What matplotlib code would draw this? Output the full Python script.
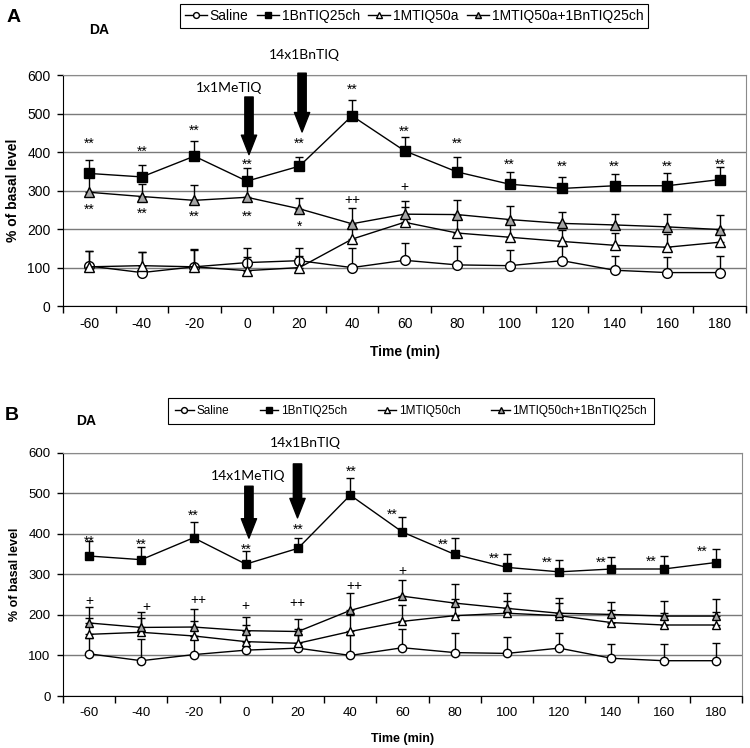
import numpy as np
import matplotlib
matplotlib.use("Agg")
import matplotlib.pyplot as plt

# ---------------- data ----------------
times = [-60, -40, -20, 0, 20, 40, 60, 80, 100, 120, 140, 160, 180]

saline = [104, 87, 102, 113, 118, 100, 119, 107, 105, 118, 93, 87, 87]
saline_err = [40, 54, 45, 39, 32, 50, 45, 49, 40, 38, 36, 40, 44]

bn25 = [345, 336, 390, 325, 364, 495, 404, 349, 317, 306, 313, 313, 329]
bn25_err = [36, 31, 40, 33, 25, 42, 36, 40, 33, 30, 30, 33, 33]

# Panel A
mtiq50a = [102, 105, 102, 92, 100, 174, 218, 190, 179, 168, 158, 153, 166]
mtiq50a_err = [40, 35, 47, 35, 30, 35, 40, 40, 35, 30, 32, 34, 35]
mtiq50a_bn = [296, 285, 275, 283, 253, 214, 239, 238, 225, 215, 211, 206, 199]
mtiq50a_bn_err = [45, 32, 40, 40, 27, 41, 35, 38, 35, 29, 29, 33, 37]

# Panel B
mtiq50ch = [152, 157, 148, 134, 130, 159, 184, 198, 204, 198, 181, 175, 175]
mtiq50ch_err = [40, 35, 38, 42, 35, 40, 40, 40, 30, 30, 30, 30, 32]
mtiq50ch_bn = [180, 169, 170, 161, 159, 211, 246, 229, 216, 204, 201, 197, 197]
mtiq50ch_bn_err = [39, 38, 45, 34, 32, 43, 39, 46, 38, 38, 30, 37, 41]

legend_a = ["Saline", "1BnTIQ25ch", "1MTIQ50a", "1MTIQ50a+1BnTIQ25ch"]
legend_b = ["Saline", "1BnTIQ25ch", "1MTIQ50ch", "1MTIQ50ch+1BnTIQ25ch"]

# significance marks: (category position, value, label)
sig_a = [(0, 434, "**"), (1, 413, "**"), (2, 468, "**"), (3, 379, "**"), (4, 434, "**"),
         (5, 574, "**"), (6, 465, "**"), (7, 434, "**"), (8, 379, "**"), (9, 374, "**"),
         (10, 374, "**"), (11, 374, "**"), (12, 379, "**"),
         (0, 262, "**"), (1, 252, "**"), (2, 242, "**"), (3, 244, "**"), (4, 216, "*"),
         (5, 275, "++"), (6, 309, "+")]
sig_b = [(0, 390, "**"), (1, 384, "**"), (2, 455, "**"), (3, 370, "**"), (4, 419, "**"),
         (5.02, 562, "**"), (5.8, 457, "**"), (6.78, 384, "**"), (7.76, 349, "**"),
         (8.77, 339, "**"), (9.8, 339, "**"), (10.76, 342, "**"), (11.74, 366, "**"),
         (0, 234, "+"), (1.09, 220, "+"), (2.09, 236, "++"), (3, 222, "+"),
         (3.98, 228, "++"), (5.07, 271, "++"), (5.99, 307, "+")]

# arrows: (label, label_x, label_y, arrow_x, tail_y, tip_y)
arrows_a = [("1x1MeTIQ", 2.66, 567, 3.04, 544, 394),
            ("14x1BnTIQ", 4.1, 653, 4.05, 606, 453)]
arrows_b = [("14x1MeTIQ", 3.04, 542, 3.06, 517, 389),
            ("14x1BnTIQ", 4.14, 623, 3.99, 572, 439)]

NARROW = ["Liberation Sans Narrow", "Liberation Sans", "DejaVu Sans"]
SANS = ["Liberation Sans", "DejaVu Sans"]
plt.rcParams["font.family"] = SANS

fig = plt.figure(figsize=(7.5, 7.48), dpi=100)


def panel(rect, v2, v2e, v3, v3e, sig, arrows, ms, fs_tick, fs_lab):
    ax = fig.add_axes(rect)
    x = np.arange(len(times))
    lines = []
    specs = [
        (saline, saline_err, "o", "white", 2),
        (bn25, bn25_err, "s", "black", 5),
        (v2, v2e, "^", "white", 3),
        (v3, v3e, "^", "#a6a6a6", 4),
    ]
    for (vals, err, mk, fc, z) in specs:
        e = ax.errorbar(x, vals, yerr=[np.zeros(len(err)), err], fmt="-", marker=mk,
                        color="black", mfc=fc, mec="black", mew=1.0, ms=ms,
                        lw=1.0, elinewidth=1.0, capsize=3, capthick=1.2, zorder=z)
        lines.append(e.lines[0])
    ax.set_xlim(-0.5, len(times) - 0.5)
    ax.set_ylim(0, 600)
    ax.set_yticks(range(0, 601, 100))
    ax.set_xticks(np.arange(-0.5, len(times), 1.0))
    ax.set_xticklabels([])
    ax.set_xticks(x, minor=True)
    ax.set_xticklabels([str(t) for t in times], minor=True, fontsize=fs_tick)
    ax.tick_params(axis="x", which="minor", length=0, pad=8)
    ax.tick_params(axis="x", which="major", length=5, width=1, direction="out")
    ax.tick_params(axis="y", length=4, width=1, direction="out", labelsize=fs_tick, pad=5)
    ax.yaxis.grid(True, color="#7a7a7a", lw=1.0)
    ax.set_axisbelow(True)
    for s in ("top", "right"):
        ax.spines[s].set_color("#8a8a8a")
    for s in ("left", "bottom"):
        ax.spines[s].set_color("black")
    ax.set_ylabel("% of basal level", fontsize=fs_lab, fontweight="bold", labelpad=5)
    ax.set_xlabel("Time (min)", fontsize=fs_lab, fontweight="bold", labelpad=10)
    for (px, py, t) in sig:
        dy = -3 if "*" in t else 0
        ax.annotate(t, xy=(px, py), xytext=(0, dy), textcoords="offset points",
                    ha="center", va="center", fontsize=10, zorder=6)
    for (lab, lx, ly, axx, ty, tp) in arrows:
        ax.annotate("", xy=(axx, tp), xytext=(axx, ty), annotation_clip=False,
                    arrowprops=dict(arrowstyle="simple,head_width=1.1,head_length=1.4,tail_width=0.6",
                                    fc="black", ec="black", shrinkA=0, shrinkB=0,
                                    mutation_scale=10), zorder=7)
        ax.text(lx, ly, lab, ha="center", va="center", fontsize=10, family=["Lato", "DejaVu Sans"],
                clip_on=False)
    return ax, lines


axA, linesA = panel([0.084, 0.5909, 0.9107, 0.3082], mtiq50a, mtiq50a_err,
                    mtiq50a_bn, mtiq50a_bn_err, sig_a, arrows_a, 7, 10, 10)
axB, linesB = panel([0.084, 0.0695, 0.9053, 0.3255], mtiq50ch, mtiq50ch_err,
                    mtiq50ch_bn, mtiq50ch_bn_err, sig_b, arrows_b, 6, 9.5, 9)

legA = fig.legend(linesA, legend_a, loc="center", bbox_to_anchor=(414 / 750, 1 - 16 / 748),
                  ncol=4, frameon=True, fancybox=False, edgecolor="black", framealpha=1,
                  handlelength=1.6, handletextpad=0.2, columnspacing=0.6, borderpad=0.35,
                  prop={"family": NARROW, "size": 10}, markerscale=0.6)
legA.get_frame().set_linewidth(0.8)
legB = fig.legend(linesB, legend_b, loc="center", bbox_to_anchor=(411 / 750, 1 - 411 / 748),
                  ncol=4, frameon=True, fancybox=False, edgecolor="black", framealpha=1,
                  handlelength=1.6, handletextpad=0.2, columnspacing=2.6, borderpad=0.6,
                  prop={"family": NARROW, "size": 8.5}, markerscale=0.7)
legB.get_frame().set_linewidth(0.8)

fig.text(14 / 750, 1 - 18 / 748, "A", fontsize=14, fontweight="bold", va="center", ha="center")
fig.text(99 / 750, 1 - 30 / 748, "DA", fontsize=10, fontweight="bold", va="center", ha="center")
fig.text(12 / 750, 1 - 416 / 748, "B", fontsize=14, fontweight="bold", va="center", ha="center")
fig.text(86 / 750, 1 - 421 / 748, "DA", fontsize=10, fontweight="bold", va="center", ha="center")

fig.savefig("out.png", dpi=100)
